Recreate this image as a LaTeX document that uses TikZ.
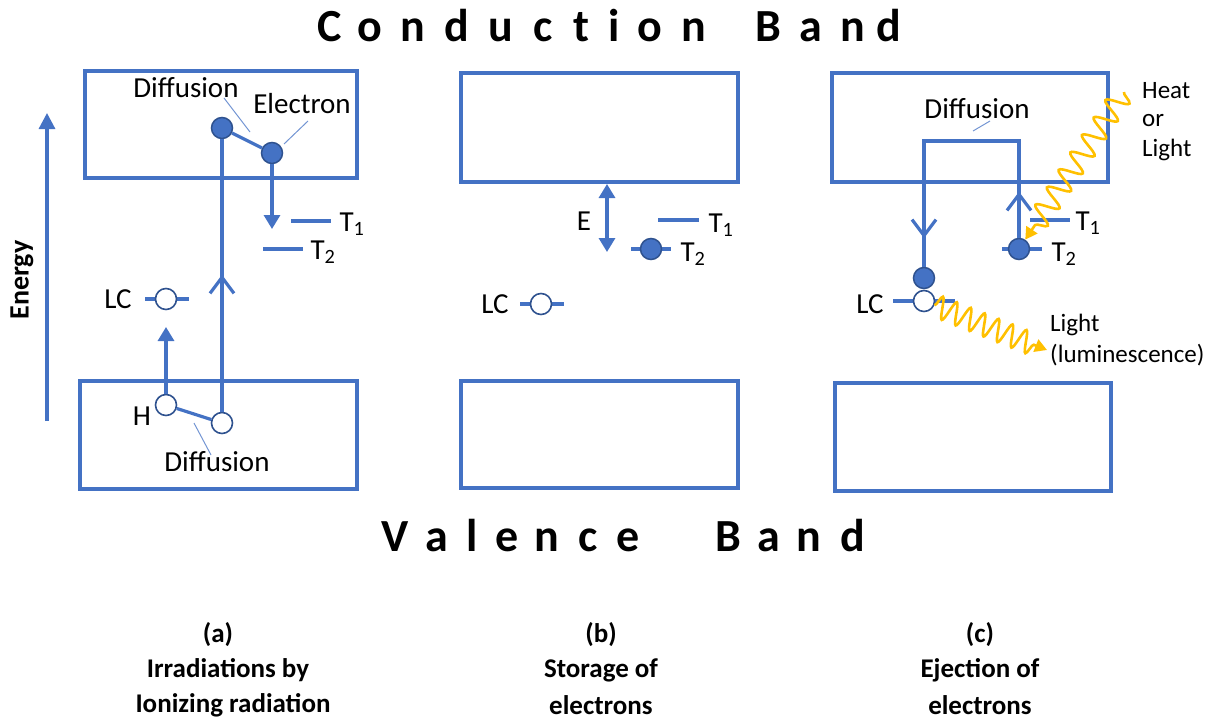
\documentclass[tikz,border=0pt]{standalone}
\usepackage{fontspec}
\setmainfont{Carlito}
\usetikzlibrary{arrows.meta,decorations.markings,decorations.pathmorphing}
\definecolor{band}{HTML}{4472C4}
\definecolor{rim}{HTML}{2F528F}
\definecolor{glow}{HTML}{FFC000}
\tikzset{
  chev/.tip={Straight Barb[length=16pt,width=24pt,line width=3.2pt]},
  solidtip/.tip={Triangle[length=14pt,width=16pt]},
  bandbox/.style={draw=band, line width=3.3pt, inner sep=0pt},
  level/.style={draw=band, line width=3.2pt},
  conn/.style={draw=band, line width=3.2pt},
  leader/.style={draw=band!75, line width=1pt},
  electron/.style={circle, fill=band, draw=rim, line width=1.5pt, minimum size=21pt, inner sep=0pt},
  hole/.style={circle, fill=white, draw=rim, line width=1.6pt, minimum size=21pt, inner sep=0pt},
  lbl/.style={font=\fontsize{29}{34}\selectfont, inner sep=0pt},
  small/.style={font=\fontsize{25}{29}\selectfont, inner sep=0pt, anchor=west},
  caption/.style={font=\fontsize{27}{32}\selectfont\bfseries, inner sep=0pt},
  heading/.style={font=\fontsize{46}{50}\selectfont\bfseries, inner sep=0pt, anchor=base},
  wave/.style={draw=glow, line width=2.6pt, decorate,
    decoration={snake, segment length=#1, amplitude=11pt, post length=14pt}},
  chevat/.style={postaction={decorate},
    decoration={markings, mark=at position #1 with {\arrow{chev}}}},
}
\begin{document}
\begin{tikzpicture}[x=1pt,y=-1pt]
\useasboundingbox (0,0) rectangle (1208,720);

% band headings, letter by letter
\foreach \px/\ch [count=\i] in {330/C,370/o,413/n,457/d,501/u,543/c,581/t,614/i,650/o,694/n,768/B,811/a,853/n,889/d}
  \node[heading] (cb\i) at (\px,41) {\ch};
\foreach \px/\ch [count=\i] in {395/V,437/a,472/l,507/e,547/n,588/c,628/e,728/B,769/a,809/n,853/d}
  \node[heading] (vb\i) at (\px,551) {\ch};

% energy axis
\coordinate (enBot) at (47,421);
\coordinate (enTop) at (47,113);
\draw[conn, -{Triangle[length=16pt,width=16pt]}] (enBot) -- (enTop);
\node[lbl, font=\fontsize{28}{32}\selectfont\bfseries, rotate=90] (energy) at (22,280) {Energy};

% ---------- panel (a): irradiation ----------
\node[bandbox, minimum width=272pt, minimum height=107pt] (cbA) at (221,124.5) {};
\node[bandbox, minimum width=277pt, minimum height=108pt] (vbA) at (218.5,435) {};

\draw[level] (291,221) -- (331,221);
\draw[level] (263,249) -- (303,249);
\node[lbl] (t1A) at (352,224) {T\textsubscript{1}};
\node[lbl] (t2A) at (323,252) {T\textsubscript{2}};

\draw[level] (145,299) -- (189,299);
\node[hole] (lcA) at (166,299) {};
\node[lbl] (lcAlbl) at (118,299) {LC};

\node[electron] (eA1) at (222,128) {};
\node[electron] (eA2) at (272,153) {};
\node[hole] (hA1) at (166,405) {};
\node[hole] (hA2) at (222,423) {};

\draw[conn] (eA1) -- (eA2);
\draw[conn] (hA1) -- (hA2);
\draw[conn, chevat=137pt] (hA2) -- (eA1);
\coordinate (dropA) at (272,229);
\draw[conn, -solidtip] (eA2) -- (dropA);
\coordinate (liftA) at (166,327);
\draw[conn, -solidtip] (hA1) -- (liftA);

\node[lbl] (difA1) at (186,88) {Diffusion};
\node[lbl] (elecA) at (302,104) {Electron};
\node[lbl] (holeA) at (142,416) {H};
\node[lbl] (difA2) at (217,462) {Diffusion};
\draw[leader] (224,98) -- (250,132);
\draw[leader] (308,121) -- (284,144);
\draw[leader] (194,423) -- (211,455);

% ---------- panel (b): storage ----------
\node[bandbox, minimum width=277pt, minimum height=109pt] (cbB) at (599.5,127.5) {};
\node[bandbox, minimum width=277pt, minimum height=107pt] (vbB) at (599.5,434.5) {};

\coordinate (gapTop) at (607,184);
\coordinate (gapBot) at (607,252);
\draw[conn, solidtip-solidtip] (gapTop) -- (gapBot);
\node[lbl] (eLbl) at (584,221) {E};

\draw[level] (658,220) -- (699,220);
\node[lbl] (t1B) at (721,225) {T\textsubscript{1}};
\draw[level] (631,249) -- (671,249);
\node[electron] (eB) at (651,249) {};
\node[lbl] (t2B) at (693,254) {T\textsubscript{2}};

\draw[level] (520,304) -- (564,304);
\node[hole] (lcB) at (541,304) {};
\node[lbl] (lcBlbl) at (495,304) {LC};

% ---------- panel (c): ejection ----------
\node[bandbox, minimum width=276pt, minimum height=109pt] (cbC) at (970,127.5) {};
\node[bandbox, minimum width=276pt, minimum height=108pt] (vbC) at (973,437) {};

\draw[level] (1030,220) -- (1070,220);
\node[lbl] (t1C) at (1088,223) {T\textsubscript{1}};
\draw[level] (1002,249) -- (1042,249);
\node[lbl] (t2C) at (1064,254) {T\textsubscript{2}};
\draw[level] (893,301) -- (955,301);
\node[lbl] (lcClbl) at (870,304) {LC};

\node[electron] (eC2) at (1019,249) {};
\node[electron] (eC1) at (924,278) {};
\node[hole] (hC) at (924,301) {};

\coordinate (turnR) at (1019,141);
\coordinate (turnL) at (924,141);
\draw[conn, line join=miter, postaction={decorate},
  decoration={markings,
    mark=at position 46pt with {\arrow{chev}},
    mark=at position 289pt with {\arrow{chev}}}]
  (eC2) -- (turnR) -- (turnL) -- (eC1);

\node[lbl] (difC) at (977,109) {Diffusion};
\draw[leader] (990,121) -- (973,131);

% stimulation and emitted light
\coordinate (heatSrc) at (1124,92);
\draw[wave=21pt, -{Triangle[length=12pt,width=13pt]}] (heatSrc) -- (eC2);
\node[small] (heat) at (1142,91) {Heat};
\node[small] (heatOr) at (1142,121) {or};
\node[small] (heatLight) at (1142,150) {Light};

\coordinate (lumEnd) at (1047,350);
\draw[wave=15pt, -{Triangle[length=12pt,width=13pt]}] (hC) -- (lumEnd);
\node[small] (lum1) at (1050,325) {Light};
\node[small] (lum2) at (1050,355) {(luminescence)};

% ---------- captions ----------
\node[caption] (capA1) at (218,635) {(a)};
\node[caption] (capA2) at (228,670) {Irradiations by};
\node[caption] (capA3) at (233,705) {Ionizing radiation};
\node[caption] (capB1) at (601,635) {(b)};
\node[caption] (capB2) at (601,670) {Storage of};
\node[caption] (capB3) at (601,705) {electrons};
\node[caption] (capC1) at (980,635) {(c)};
\node[caption] (capC2) at (980,670) {Ejection of};
\node[caption] (capC3) at (980,705) {electrons};
\end{tikzpicture}
\end{document}
